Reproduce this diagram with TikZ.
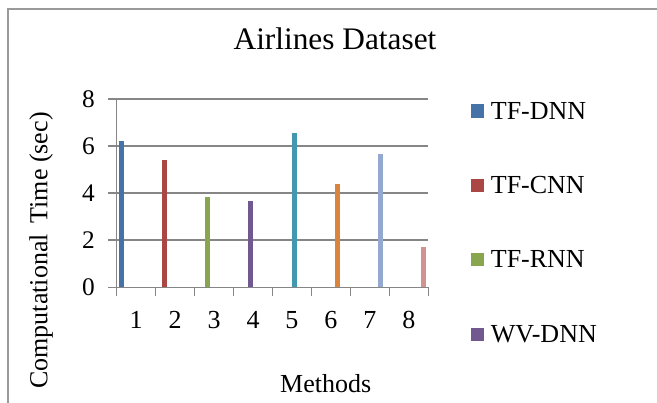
\documentclass[tikz,border=0pt]{standalone}
\usepackage{fontspec}
\setmainfont{Liberation Serif}
\definecolor{cA}{HTML}{4572A7}
\definecolor{cB}{HTML}{AA4643}
\definecolor{cC}{HTML}{89A54E}
\definecolor{cD}{HTML}{71588F}
\definecolor{cE}{HTML}{4198AF}
\definecolor{cF}{HTML}{DB843D}
\definecolor{cG}{HTML}{93A9CF}
\definecolor{cH}{HTML}{D19392}
\definecolor{gridgray}{HTML}{868686}
\definecolor{framegray}{HTML}{9A9A9A}
\begin{document}
\begin{tikzpicture}[x=0.75pt,y=-0.75pt,
  gridline/.style={draw=gridgray, line width=1.1pt},
  ticklbl/.style={font=\fontsize{19}{22}\selectfont, inner sep=0pt},
  txt/.style={font=\fontsize{19.5}{23}\selectfont, inner sep=0pt},
  legsq/.style={minimum size=10pt, inner sep=0pt, draw=none}]
\useasboundingbox (0,0) rectangle (657,403);
\clip (0,0) rectangle (657,403);
\fill[white] (0,0) rectangle (657,403);
% chart frame
\coordinate (fBL) at (8,420);
\coordinate (fTL) at (8,9);
\coordinate (fTR) at (670,9);
\draw[framegray, line width=1.3pt] (fBL) -- (fTL) -- (fTR);
% title
\node[font=\fontsize{23.5}{28}\selectfont, inner sep=0pt, anchor=base] (title) at (335,50) {Airlines Dataset};
% grid lines and y labels
\foreach \v in {0,2,4,6,8}{
  \coordinate (gl\v) at (108.3,{287.3-23.55*\v});
  \coordinate (gr\v) at (428.3,{287.3-23.55*\v});
  \draw[gridline] (gl\v) -- (gr\v);
  \node[ticklbl, anchor=east] (yl\v) at (95,{287.3-23.55*\v}) {\v};
}
% y axis
\coordinate (ax0) at (116.7,287.3);
\coordinate (ax8) at (116.7,{287.3-23.55*8});
\draw[gridline] (ax0) -- (ax8);
% x ticks and labels
\foreach \k in {0,...,8}{
  \coordinate (xt\k) at ({116.7+38.95*\k},287.3);
  \coordinate (xb\k) at ({116.7+38.95*\k},295.5);
  \draw[gridline] (xt\k) -- (xb\k);
}
\foreach \k in {1,...,8}{
  \node[txt, anchor=base] (xl\k) at ({116.7+38.95*\k-19.5},328) {\k};
}
% bars
\foreach \k/\val/\col in {0/6.2/cA,1/5.39/cB,2/3.83/cC,3/3.66/cD,4/6.55/cE,5/4.38/cF,6/5.65/cG,7/1.71/cH}{
  \fill[\col] ({118.7+43.2*\k},287.3) rectangle ({123.7+43.2*\k},{287.3-23.55*\val});
}
% axis titles
\node[txt, rotate=90] (ytitle) at (41,250.5) {Computational\, Time (sec)};
\node[txt, anchor=base] (xtitle) at (325.7,392) {Methods};
% legend
\foreach \i/\name/\col in {0/TF-DNN/cA,1/TF-CNN/cB,2/TF-RNN/cC,3/WV-DNN/cD}{
  \node[legsq, fill=\col] (lsq\i) at (477.6,{111+74.4*\i}) {};
  \node[txt, anchor=base west] (ltx\i) at (490.6,{119+74.4*\i}) {\name};
}
\end{tikzpicture}
\end{document}
